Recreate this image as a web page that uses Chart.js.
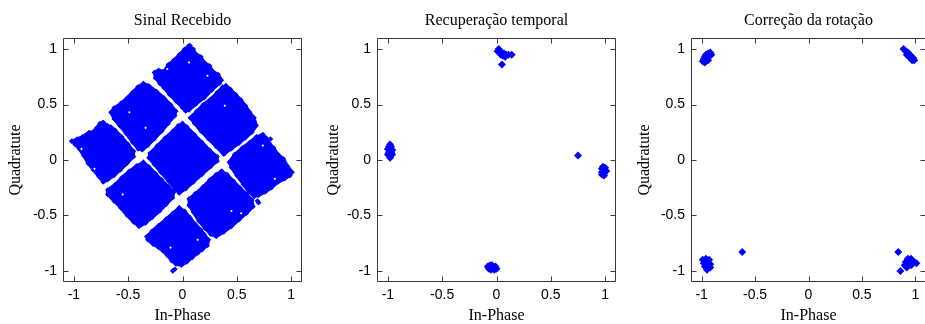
<!DOCTYPE html>
<html>
<head>
<meta charset="utf-8">
<script src="https://cdn.jsdelivr.net/npm/chart.js@4/dist/chart.umd.min.js"></script>
<style>
  html, body { margin: 0; padding: 0; background: #ffffff; width: 925px; height: 324px; overflow: hidden; }
  .panel { position: absolute; top: 0; height: 324px; }
</style>
</head>
<body>
<div class="panel" style="left:0px"><canvas id="c1" width="310" height="324"></canvas></div>
<div class="panel" style="left:310px"><canvas id="c2" width="310" height="324"></canvas></div>
<div class="panel" style="left:620px"><canvas id="c3" width="310" height="324"></canvas></div>
<script>
// ---- axes ----
const tickValues = [-1, -0.5, 0, 0.5, 1];
const axisMin = -1.1;
const axisMax = 1.1;
const panelTitles = ['Sinal Recebido', 'Recuperação temporal', 'Correção da rotação'];
const xTitle = 'In-Phase';
const yTitle = 'Quadratute';

// ---- received signal: outlines of the nine symbol clouds (I, Q) ----
const cloudTop = [[0.06,1.03],[0.10,1.00],[0.12,0.96],[0.17,0.93],[0.20,0.88],[0.25,0.85],[0.28,0.80],[0.33,0.77],[0.36,0.72],[0.34,0.69],[0.27,0.63],[0.20,0.56],[0.12,0.50],[0.06,0.45],[0.03,0.44],[0.00,0.47],[-0.06,0.53],[-0.12,0.59],[-0.17,0.65],[-0.21,0.69],[-0.25,0.74],[-0.26,0.79],[-0.22,0.81],[-0.17,0.80],[-0.13,0.86],[-0.08,0.90],[-0.03,0.95],[0.02,1.00]];
const cloudTopRight = [[0.40,0.67],[0.44,0.64],[0.49,0.59],[0.54,0.54],[0.58,0.49],[0.62,0.43],[0.66,0.38],[0.68,0.31],[0.64,0.25],[0.58,0.20],[0.52,0.15],[0.45,0.10],[0.38,0.05],[0.31,0.12],[0.24,0.19],[0.17,0.26],[0.11,0.33],[0.07,0.38],[0.13,0.44],[0.19,0.50],[0.26,0.55],[0.32,0.61],[0.37,0.66]];
const cloudTopLeft = [[-0.36,0.69],[-0.31,0.67],[-0.24,0.62],[-0.17,0.56],[-0.11,0.50],[-0.06,0.44],[-0.07,0.40],[-0.13,0.33],[-0.19,0.26],[-0.26,0.19],[-0.32,0.13],[-0.37,0.09],[-0.41,0.10],[-0.46,0.16],[-0.52,0.24],[-0.58,0.31],[-0.63,0.37],[-0.66,0.43],[-0.63,0.47],[-0.57,0.51],[-0.51,0.56],[-0.46,0.61],[-0.41,0.66]];
const cloudCenter = [[0.00,0.33],[0.04,0.30],[0.11,0.23],[0.18,0.16],[0.25,0.09],[0.32,0.03],[0.32,-0.01],[0.26,-0.06],[0.18,-0.13],[0.10,-0.20],[0.03,-0.26],[-0.03,-0.30],[-0.07,-0.26],[-0.13,-0.19],[-0.20,-0.11],[-0.26,-0.04],[-0.31,0.02],[-0.30,0.06],[-0.23,0.13],[-0.16,0.20],[-0.09,0.26],[-0.04,0.31]];
const cloudLeft = [[-0.73,0.34],[-0.69,0.31],[-0.66,0.30],[-0.62,0.27],[-0.56,0.21],[-0.50,0.14],[-0.45,0.08],[-0.45,0.03],[-0.51,-0.03],[-0.57,-0.09],[-0.63,-0.14],[-0.69,-0.18],[-0.73,-0.20],[-0.77,-0.15],[-0.82,-0.09],[-0.87,-0.03],[-0.91,0.04],[-0.95,0.10],[-0.99,0.14],[-1.01,0.17],[-0.97,0.19],[-0.92,0.21],[-0.86,0.25],[-0.83,0.25],[-0.79,0.29],[-0.76,0.33]];
const cloudRight = [[0.74,0.23],[0.77,0.20],[0.80,0.15],[0.84,0.11],[0.88,0.05],[0.93,0.01],[0.97,-0.06],[1.01,-0.11],[0.99,-0.14],[0.94,-0.17],[0.88,-0.20],[0.82,-0.25],[0.76,-0.29],[0.70,-0.32],[0.66,-0.33],[0.61,-0.29],[0.56,-0.22],[0.50,-0.14],[0.45,-0.07],[0.43,-0.02],[0.48,0.05],[0.55,0.11],[0.62,0.16],[0.68,0.21]];
const cloudBottomLeft = [[-0.36,-0.02],[-0.31,-0.06],[-0.25,-0.12],[-0.19,-0.18],[-0.13,-0.24],[-0.08,-0.29],[-0.09,-0.34],[-0.15,-0.40],[-0.21,-0.46],[-0.28,-0.52],[-0.34,-0.57],[-0.40,-0.60],[-0.45,-0.56],[-0.51,-0.50],[-0.57,-0.43],[-0.63,-0.37],[-0.69,-0.31],[-0.69,-0.27],[-0.62,-0.22],[-0.56,-0.16],[-0.49,-0.10],[-0.42,-0.05]];
const cloudBottomRight = [[0.36,-0.10],[0.41,-0.13],[0.47,-0.19],[0.53,-0.25],[0.59,-0.31],[0.64,-0.36],[0.65,-0.42],[0.59,-0.48],[0.52,-0.54],[0.45,-0.60],[0.38,-0.65],[0.31,-0.69],[0.26,-0.67],[0.21,-0.62],[0.15,-0.55],[0.10,-0.47],[0.06,-0.41],[0.06,-0.35],[0.12,-0.30],[0.19,-0.24],[0.25,-0.18],[0.31,-0.13]];
const cloudBottom = [[-0.03,-0.43],[0.02,-0.46],[0.07,-0.52],[0.12,-0.58],[0.17,-0.63],[0.20,-0.67],[0.24,-0.72],[0.23,-0.77],[0.18,-0.81],[0.14,-0.84],[0.09,-0.88],[0.04,-0.92],[-0.01,-0.95],[-0.06,-0.94],[-0.10,-0.91],[-0.14,-0.86],[-0.18,-0.82],[-0.22,-0.79],[-0.27,-0.76],[-0.32,-0.72],[-0.33,-0.69],[-0.28,-0.64],[-0.22,-0.59],[-0.15,-0.53],[-0.09,-0.48]];
const receivedStray = [[-0.09,-1.00],[-0.07,-0.985],[0.69,-0.37],[0.70,-0.385],[-1.02,0.17],[0.07,1.03],[0.81,0.19]];
const receivedGaps = [[-0.49,0.43],[-0.34,0.29],[-0.14,0.82],[0.06,0.88],[0.23,0.76],[0.39,0.49],[-0.93,0.10],[-0.81,-0.08],[0.74,0.13],[0.85,-0.17],[-0.55,-0.31],[0.45,-0.46],[0.54,-0.48],[-0.11,-0.79],[0.14,-0.72]];

// ---- after timing recovery ----
const timingLeft = [[-0.98,0.14],[-0.99,0.12],[-0.97,0.12],[-1.00,0.10],[-0.98,0.10],[-0.96,0.09],[-0.99,0.07],[-0.97,0.07],[-1.00,0.05],[-0.98,0.04],[-0.96,0.05],[-0.98,0.02]];
const timingTop = [[0.02,1.00],[0.01,0.98],[0.03,0.97],[0.05,0.97],[0.04,0.95],[0.07,0.96],[0.06,0.94],[0.09,0.95],[0.08,0.93],[0.11,0.95],[0.14,0.95],[0.05,0.86]];
const timingBottom = [[-0.08,-0.96],[-0.06,-0.95],[-0.04,-0.95],[-0.01,-0.96],[0.00,-0.98],[-0.07,-0.98],[-0.05,-0.97],[-0.03,-0.98],[-0.05,-0.99],[-0.02,-0.99]];
const timingRight = [[0.98,-0.06],[1.00,-0.07],[0.97,-0.08],[0.99,-0.09],[1.01,-0.10],[0.97,-0.11],[0.99,-0.12],[0.97,-0.13],[0.99,-0.14],[0.75,0.04]];

// ---- after rotation correction ----
const rotTopLeft = [[-0.99,0.89],[-0.98,0.91],[-0.97,0.93],[-0.95,0.92],[-0.96,0.95],[-0.94,0.96],[-0.93,0.94],[-0.92,0.97],[-0.94,0.90],[-0.97,0.88],[-0.91,0.95]];
const rotTopRight = [[0.89,1.00],[0.91,0.98],[0.93,0.97],[0.92,0.95],[0.95,0.95],[0.96,0.93],[0.94,0.93],[0.98,0.92],[0.99,0.90],[0.97,0.90]];
const rotBottomLeft = [[-0.99,-0.90],[-0.96,-0.89],[-0.93,-0.90],[-0.98,-0.93],[-0.95,-0.93],[-0.92,-0.94],[-0.97,-0.96],[-0.94,-0.97],[-0.95,-0.99],[-0.92,-0.97],[-0.62,-0.83]];
const rotBottomRight = [[0.93,-0.89],[0.96,-0.89],[0.99,-0.92],[1.01,-0.93],[0.91,-0.92],[0.94,-0.92],[0.97,-0.93],[0.90,-0.95],[0.93,-0.95],[0.96,-0.95],[0.92,-0.97],[0.84,-0.83],[0.86,-1.00]];

const BLUE = '#0000ff';
const SERIF = '"Liberation Serif", "Times New Roman", serif';
const SANS = '"Liberation Sans", Arial, sans-serif';

function toPoints(arr) { return arr.map(([x, y]) => ({x, y})); }

function cloudSet(arr) {
  return {
    data: toPoints(arr.concat([arr[0]])),
    showLine: true, fill: 'shape', tension: 0,
    backgroundColor: BLUE, borderColor: BLUE, borderWidth: 3, borderJoinStyle: 'round',
    pointRadius: 2.6, pointStyle: 'rectRot',
    pointBackgroundColor: BLUE, pointBorderColor: BLUE, pointBorderWidth: 0,
    order: 1
  };
}
function dotSet(arr, r, color, order) {
  return {
    data: toPoints(arr), showLine: false,
    pointRadius: r, pointStyle: 'rectRot',
    pointBackgroundColor: color, pointBorderColor: color, pointBorderWidth: 0,
    order: order
  };
}

// box around the plot area with inward ticks on all four sides
const framePlugin = {
  id: 'frame',
  afterDraw(chart) {
    const {ctx, chartArea: a, scales} = chart;
    const L = Math.round(a.left) + 0.5, R = Math.round(a.right) - 0.5;
    const T = Math.round(a.top) + 0.5, B = Math.round(a.bottom) - 0.5;
    const len = 5;
    ctx.save();
    ctx.strokeStyle = '#3a3a3a';
    ctx.lineWidth = 1;
    ctx.beginPath();
    ctx.rect(L, T, R - L, B - T);
    scales.x.ticks.forEach(t => {
      const px = Math.round(scales.x.getPixelForValue(t.value)) + 0.5;
      ctx.moveTo(px, B); ctx.lineTo(px, B - len);
      ctx.moveTo(px, T); ctx.lineTo(px, T + len);
    });
    scales.y.ticks.forEach(t => {
      const py = Math.round(scales.y.getPixelForValue(t.value)) + 0.5;
      ctx.moveTo(L, py); ctx.lineTo(L + len, py);
      ctx.moveTo(R, py); ctx.lineTo(R - len, py);
    });
    ctx.stroke();
    ctx.restore();
  }
};

function makePanel(id, title, datasets, axisWidth, yTitlePad) {
  const canvas = document.getElementById(id);
  const areaWidth = 239;
  new Chart(canvas, {
    type: 'scatter',
    data: {datasets},
    options: {
      responsive: false,
      animation: false,
      devicePixelRatio: 1,
      layout: {padding: {left: 0, top: 0, bottom: 0, right: canvas.width - axisWidth - areaWidth}},
      plugins: {
        legend: {display: false},
        tooltip: {enabled: false},
        title: {
          display: true, text: title, fullSize: false, color: '#000',
          font: {family: SERIF, size: 16, weight: 'normal', lineHeight: 1},
          padding: {top: 13, bottom: 9}
        }
      },
      scales: {
        x: {
          type: 'linear', min: axisMin, max: axisMax,
          afterBuildTicks: s => { s.ticks = tickValues.map(v => ({value: v})); },
          afterFit: s => { s.height = 42; },
          grid: {display: false, drawTicks: false},
          border: {display: false},
          ticks: {padding: 5, color: '#000', font: {family: SANS, size: 14}, maxRotation: 0, autoSkip: false, callback: v => String(v)},
          title: {display: true, text: xTitle, color: '#000', font: {family: SERIF, size: 16, lineHeight: 1}, padding: {top: 0, bottom: 0}}
        },
        y: {
          type: 'linear', min: axisMin, max: axisMax,
          afterBuildTicks: s => { s.ticks = tickValues.map(v => ({value: v})); },
          afterFit: s => { s.width = axisWidth; },
          grid: {display: false, drawTicks: false},
          border: {display: false},
          ticks: {padding: 6, color: '#000', font: {family: SANS, size: 14}, autoSkip: false, callback: v => String(v)},
          title: {display: true, text: yTitle, color: '#000', font: {family: SERIF, size: 16, lineHeight: 1}, padding: {top: yTitlePad, bottom: 0}}
        }
      }
    },
    plugins: [framePlugin]
  });
}

makePanel('c1', panelTitles[0], [
  dotSet(receivedGaps, 1.3, '#ffffff', 0),
  cloudSet(cloudTop), cloudSet(cloudTopRight), cloudSet(cloudTopLeft),
  cloudSet(cloudCenter), cloudSet(cloudLeft), cloudSet(cloudRight),
  cloudSet(cloudBottomLeft), cloudSet(cloudBottomRight), cloudSet(cloudBottom),
  dotSet(receivedStray, 2.8, BLUE, 1)
], 63, 8);

makePanel('c2', panelTitles[1], [
  dotSet(timingLeft, 4, BLUE, 1), dotSet(timingTop, 4, BLUE, 1),
  dotSet(timingBottom, 4, BLUE, 1), dotSet(timingRight, 4, BLUE, 1)
], 67, 16);

makePanel('c3', panelTitles[2], [
  dotSet(rotTopLeft, 4, BLUE, 1), dotSet(rotTopRight, 4, BLUE, 1),
  dotSet(rotBottomLeft, 4, BLUE, 1), dotSet(rotBottomRight, 4, BLUE, 1)
], 71, 17);
</script>
</body>
</html>
